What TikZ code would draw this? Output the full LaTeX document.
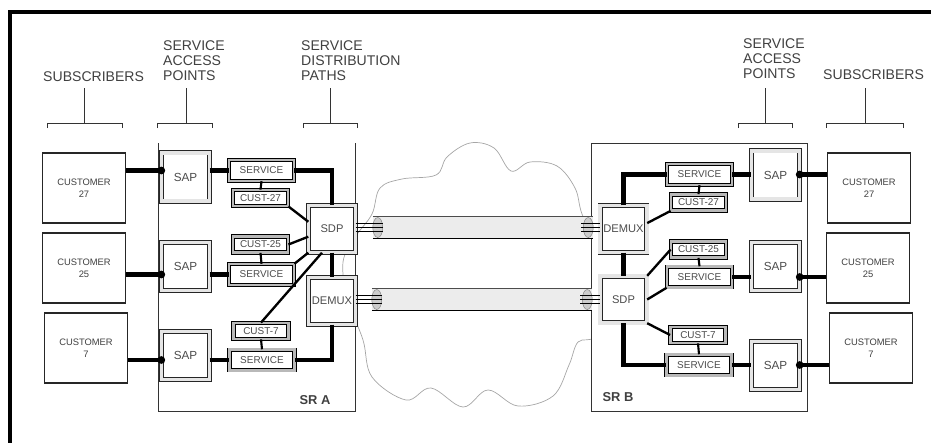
\documentclass[tikz,border=0pt]{standalone}
\usepackage{fontspec}
\setmainfont{Liberation Sans}
\usepackage{xcolor}
\usetikzlibrary{shapes,arrows,positioning,calc}

\begin{document}
\begin{tikzpicture}[x=0.03cm, y=-0.03cm,
            customer/.style={rectangle, draw=black!85, line width=0.9pt, fill=white, minimum width=2.5cm, minimum height=2.1cm, align=center, inner sep=0pt, font=\fontsize{8}{10}\selectfont, text=black!75},
            sap/.style={rectangle, draw=black!85, line width=0.6pt, double=gray!20, double distance=3pt, fill=white, minimum width=1.43cm, minimum height=1.45cm, inner sep=0pt, font=\fontsize{10}{12}\selectfont, text=black!70},
            sdp/.style={sap, minimum width=1.4cm, minimum height=1.4cm, font=\fontsize{9.5}{12}\selectfont},
            service/.style={rectangle, draw=black, line width=0.7pt, double=gray!55, double distance=2.2pt, fill=white, minimum width=1.95cm, minimum height=0.62cm, inner sep=0pt, font=\fontsize{8.5}{10}\selectfont, text=black!70},
            cust/.style={service, minimum width=1.65cm, minimum height=0.48cm},
            heading/.style={anchor=north west, align=left, inner sep=0pt, font=\fontsize{12}{13.2}\selectfont, text=black!75},
            srlabel/.style={inner sep=0pt, font=\bfseries\fontsize{11}{13}\selectfont, text=black!75},
            tunnel/.style={rectangle, fill=gray!15, minimum width=6.6cm, minimum height=0.63cm, inner sep=0pt},
            bracket/.style={line width=0.8pt, black!80},
            thickline/.style={line width=4pt},
            midline/.style={line width=2pt},
            thinline/.style={line width=1.8pt},
            stripe/.style={line width=1.2pt},
            srbox/.style={line width=0.8pt, draw=black!80}]

            \useasboundingbox (0,0) rectangle (931,442);

            % Frame and cloud
            \draw[line width=4pt] (10,445) -- (10,12) -- (935,12);
            \draw[gray!70, line width=0.6pt] plot[smooth cycle, tension=0.6] coordinates {(372,214) (380,188) (402,179) (436,175) (447,157) (470,143) (494,148) (511,171) (530,162) (557,166) (575,188) (582,214) (598,250) (598,300) (595,336) (578,342) (569,365) (553,396) (518,406) (488,390) (463,407) (431,388) (406,400) (372,377) (363,340) (348,300) (343,262) (356,236)};

            % Service routers
            \draw[srbox, fill=white] (591,143) rectangle (807,411);
            \draw[srbox] (158,143) -- (158,411) -- (355,411) -- (355,143);
            \node[srlabel] (srA) at (315,400) {SR A};
            \node[srlabel] (srB) at (618,397) {SR B};

            % Headings and brackets
            \node[heading] (subA) at (43,71) {SUBSCRIBERS};
            \node[heading] (accA) at (163,40) {SERVICE\\ACCESS\\POINTS};
            \node[heading] (distA) at (301,40) {SERVICE\\DISTRIBUTION\\PATHS};
            \node[heading] (accB) at (743,38) {SERVICE\\ACCESS\\POINTS};
            \node[heading] (subB) at (823,69) {SUBSCRIBERS};
            \draw[bracket] (47,128) |- (122,123) -- (122,128) (84,123) -- (84,88);
            \draw[bracket] (157,128) |- (212,123) -- (212,128) (186,123) -- (186,88);
            \draw[bracket] (303,128) |- (357,123) -- (357,128) (330,123) -- (330,88);
            \draw[bracket] (738,128) |- (792,123) -- (792,128) (765,123) -- (765,88);
            \draw[bracket] (826,128) |- (903,123) -- (903,128) (865,123) -- (865,88);

            % Tunnels
            \node[tunnel] (tun1) at (483,227.5) {};
            \node[tunnel] (tun2) at (482,299.5) {};
            \draw[line width=0.7pt, black!70] (tun1.north west) -- (tun1.north east) (tun2.north west) -- (tun2.north east);
            \draw[line width=0.9pt] (tun1.south west) -- (tun1.south east) (tun2.south west) -- (tun2.south east);
            \draw[gray, fill=gray!40] ($(tun1.west)+(5,0)$) ellipse (5 and 10);
            \draw[gray, fill=gray!40] ($(tun1.east)+(-5,0)$) ellipse (5 and 10);
            \draw[gray, fill=gray!40] ($(tun2.west)+(5,0)$) ellipse (5 and 10);
            \draw[gray, fill=gray!40] ($(tun2.east)+(-5,0)$) ellipse (5 and 10);

            % Left side nodes
            \node[customer] (c27a) at (84,188) {CUSTOMER\\27};
            \node[customer] (c25a) at (84,268) {CUSTOMER\\25};
            \node[customer] (c7a) at (86,348) {CUSTOMER\\7};
            \node[sap] (sap1a) at (185.5,177) {SAP};
            \node[sap] (sap2a) at (185.5,266.5) {SAP};
            \node[sap] (sap3a) at (185.5,355.5) {SAP};
            \node[service] (svc1a) at (261.5,170.5) {SERVICE};
            \node[cust] (cu27a) at (260.5,198) {CUST-27};
            \node[cust] (cu25a) at (260.5,244.5) {CUST-25};
            \node[service] (svc2a) at (261.5,274.5) {SERVICE};
            \node[cust] (cu7a) at (261,331) {CUST-7};
            \node[service] (svc3a) at (262,360) {SERVICE};
            \node[sdp] (sdpA) at (332,229) {SDP};
            \node[sdp] (demuxA) at (332,301) {DEMUX};

            % Right side nodes
            \node[customer] (c27b) at (869,188) {CUSTOMER\\27};
            \node[customer] (c25b) at (868,268) {CUSTOMER\\25};
            \node[customer] (c7b) at (871,348) {CUSTOMER\\7};
            \node[sap] (sap1b) at (775.5,175) {SAP};
            \node[sap] (sap2b) at (775.5,266.5) {SAP};
            \node[sap] (sap3b) at (775.5,365.5) {SAP};
            \node[service] (svc1b) at (699.5,174.5) {SERVICE};
            \node[cust] (cu27b) at (698.5,202.5) {CUST-27};
            \node[cust] (cu25b) at (698.5,249.5) {CUST-25};
            \node[service] (svc2b) at (699.5,277) {SERVICE};
            \node[cust] (cu7b) at (698,335) {CUST-7};
            \node[service] (svc3b) at (699,365) {SERVICE};
            \node[sdp] (demuxB) at (623.5,229) {DEMUX};
            \node[sdp] (sdpB) at (623.5,299.5) {SDP};

            % Tunnel ends
            \foreach \d in {-4,0,4} {
                \draw[stripe] ($(tun1.west -| sdpA.east)+(0,\d)$) -- ($(tun1.west)+(10,\d)$);
                \draw[stripe] ($(tun1.east)+(-12,\d)$) -- ($(tun1.east -| demuxB.west)+(0,\d)$);
                \draw[stripe] ($(tun2.west -| demuxA.east)+(0,\d)$) -- ($(tun2.west)+(10,\d)$);
                \draw[stripe] ($(tun2.east)+(-12,\d)$) -- ($(tun2.east -| sdpB.west)+(0,\d)$);
            }

            % Left side links
            \draw[thickline] (c27a.east |- svc1a.west) -- (sap1a.west |- svc1a.west);
            \draw[thickline] (c25a.east |- svc2a.west) -- (sap2a.west |- svc2a.west);
            \draw[thickline] (c7a.east |- svc3a.west) -- (sap3a.west |- svc3a.west);
            \fill (sap1a.west |- svc1a.west) circle (3.3pt);
            \fill (sap2a.west |- svc2a.west) circle (3.3pt);
            \fill (sap3a.west |- svc3a.west) circle (3.3pt);
            \draw[thickline] (sap1a.east |- svc1a.west) -- (svc1a.west);
            \draw[thickline] (sap2a.east |- svc2a.west) -- (svc2a.west);
            \draw[thickline] (sap3a.east |- svc3a.west) -- (svc3a.west);
            \draw[thinline] (svc1a.south) -- (cu27a.north);
            \draw[thinline] (svc2a.north) -- (cu25a.south);
            \draw[thinline] (svc3a.north) -- (cu7a.south);
            \draw[thickline] (svc1a.east) -| (sdpA.north);
            \draw[midline] (cu27a.south east) -- (sdpA.163);
            \draw[midline] (cu25a.east) -- (sdpA.198);
            \draw[midline] (svc2a.north east) -- (sdpA.south west);
            \draw[midline] (sdpA.247) -- (cu7a.north);
            \draw[thickline] (sdpA.south) -- (demuxA.north);
            \draw[thickline] (demuxA.south) |- (svc3a.east);

            % Right side links
            \draw[thickline] (sap1b.east |- svc1b.east) -- (c27b.west |- svc1b.east);
            \draw[thickline] (sap2b.east |- svc2b.east) -- (c25b.west |- svc2b.east);
            \draw[thickline] (sap3b.east |- svc3b.east) -- (c7b.west |- svc3b.east);
            \fill (sap1b.east |- svc1b.east) circle (3.3pt);
            \fill (sap2b.east |- svc2b.east) circle (3.3pt);
            \fill (sap3b.east |- svc3b.east) circle (3.3pt);
            \draw[thickline] (svc1b.east) -- (sap1b.west |- svc1b.east);
            \draw[thickline] (svc2b.east) -- (sap2b.west |- svc2b.east);
            \draw[thickline] (svc3b.east) -- (sap3b.west |- svc3b.east);
            \draw[thinline] (svc1b.south) -- (cu27b.north);
            \draw[thinline] (svc2b.north) -- (cu25b.south);
            \draw[thinline] (svc3b.north) -- (cu7b.south);
            \draw[thickline] (demuxB.north) |- (svc1b.west);
            \draw[midline] (demuxB.14) -- (cu27b.south west);
            \draw[thickline] (demuxB.south) -- (sdpB.north);
            \draw[midline] (sdpB.north east) -- (cu25b.west);
            \draw[midline] (sdpB.east) -- (svc2b.south west);
            \draw[midline] (sdpB.south east) -- (cu7b.west);
            \draw[thickline] (sdpB.south) |- (svc3b.west);
        \end{tikzpicture}
\end{document}
